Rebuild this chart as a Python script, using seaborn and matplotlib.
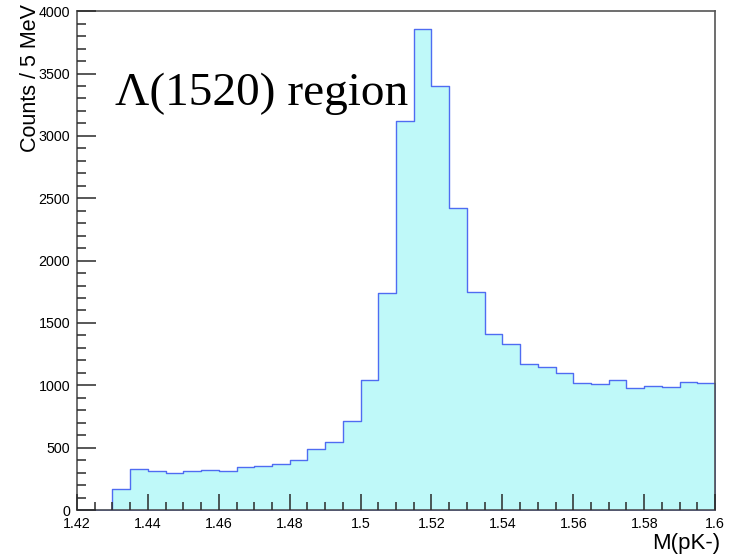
import numpy as np
import pandas as pd
import matplotlib
matplotlib.use("Agg")
import matplotlib.pyplot as plt
from matplotlib.ticker import MultipleLocator
import seaborn as sns

# Lambda(1520) candidate mass spectrum, 5 MeV bins from 1.42 to 1.60 GeV
bin_lo = 1.42
bin_width = 0.005
counts = [0, 0, 165, 332, 314, 293, 314, 324, 311, 343, 356, 370,
          404, 489, 548, 710, 1045, 1744, 3122, 3857, 3397, 2424,
          1749, 1413, 1330, 1167, 1143, 1095, 1018, 1010, 1039, 975,
          991, 983, 1028, 1020]
x_ticks = [1.42, 1.44, 1.46, 1.48, 1.50, 1.52, 1.54, 1.56, 1.58, 1.60]
x_tick_labels = ["1.42", "1.44", "1.46", "1.48", "1.5", "1.52", "1.54",
                 "1.56", "1.58", "1.6"]
y_ticks = [0, 500, 1000, 1500, 2000, 2500, 3000, 3500, 4000]

edges = [round(bin_lo + bin_width * i, 4) for i in range(len(counts) + 1)]
centers = [0.5 * (a + b) for a, b in zip(edges[:-1], edges[1:])]
df = pd.DataFrame({"mass": centers, "counts": counts})

sns.set_theme(style="white")
plt.rcParams["font.family"] = ["Liberation Sans", "DejaVu Sans"]

fig = plt.figure(figsize=(7.36, 5.58), dpi=100)
ax = fig.add_axes([0.1046, 0.086, 0.867, 0.894])

sns.histplot(data=df, x="mass", weights="counts", bins=edges,
             element="step", fill=True, ax=ax, alpha=1.0)
for coll in ax.collections:
    coll.set_facecolor("#bff9f9")
    coll.set_edgecolor("#4f6cf2")
    coll.set_linewidth(1.0)
    coll.set_zorder(1)
for ln in ax.lines:
    ln.set_color("#4f6cf2")
    ln.set_linewidth(1.0)
    ln.set_zorder(1.5)

ax.set_xlim(1.42, 1.60)
ax.set_ylim(0, 4000)
ax.set_xticks(x_ticks)
ax.set_xticklabels(x_tick_labels)
ax.set_yticks(y_ticks)
ax.xaxis.set_minor_locator(MultipleLocator(0.005))
ax.yaxis.set_minor_locator(MultipleLocator(100))

ax.tick_params(axis="both", which="both", bottom=True, left=True,
               top=False, right=False, direction="in", color="#2a2a2a",
               width=1.1)
ax.tick_params(axis="both", which="major", labelcolor="black", labelsize=10.3)
ax.tick_params(axis="x", which="major", length=11.5, pad=5)
ax.tick_params(axis="y", which="major", length=13.5, pad=5)
ax.tick_params(axis="x", which="minor", length=5.8)
ax.tick_params(axis="y", which="minor", length=6.5)
ax.set_axisbelow(False)
ax.xaxis.set_zorder(4)
ax.yaxis.set_zorder(4)

for s in ax.spines.values():
    s.set_color("#555555")
    s.set_linewidth(1.2)
    s.set_visible(True)
    s.set_zorder(4)

ax.set_xlabel("")
ax.set_ylabel("")
fig.text(0.978, 0.008, "M(pK-)", ha="right", va="bottom", fontsize=16,
         color="black")
fig.text(0.027, 0.993, "Counts / 5 MeV", ha="left", va="top",
         rotation=90, fontsize=15.5, color="black")

ax.text(1.4308, 3245, "\u039b(1520) region", ha="left", va="baseline",
        fontsize=34, color="black", zorder=5,
        family=["Liberation Serif", "DejaVu Serif"])

fig.savefig("out.png", dpi=100)
